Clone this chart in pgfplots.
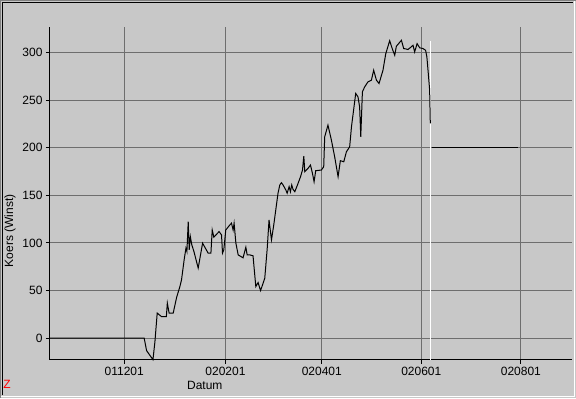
\documentclass[border=0pt]{standalone}
\usepackage{fontspec}
\setmainfont{Liberation Sans}
\usepackage{pgfplots}
\pgfplotsset{compat=1.18}
\definecolor{bg}{RGB}{200,200,200}
\definecolor{gridc}{RGB}{110,110,110}
\definecolor{frameg}{RGB}{128,128,128}
\begin{document}
\begin{tikzpicture}[x=1bp,y=1bp]
\fill[bg] (0,0) rectangle (576,398);
\draw[frameg, line width=1bp] (0.5,0) -- (0.5,397.5) -- (576,397.5);
\draw[black, line width=1bp] (2.5,2.5) -- (2.5,395.5) -- (573.5,395.5);
\draw[white, line width=1bp] (1.5,1.5) -- (574.5,1.5) -- (574.5,396.5);
\begin{axis}[
  at={(50bp,38bp)}, anchor=south west,
  width=522bp, height=333bp, scale only axis,
  xmin=-45.5, xmax=274, ymin=-22.8, ymax=327,
  axis x line=bottom, axis y line=left,
  axis line style={-, black, line width=1bp},
  xtick={0,62,121,182,243},
  xticklabels={011201,020201,020401,020601,020801},
  ytick={0,50,100,150,200,250,300},
  grid=major, major grid style={gridc, line width=1bp},
  tick align=outside, major tick length=4bp,
  tick style={black, line width=1bp},
  every tick label/.append style={font=\fontsize{12bp}{14bp}\selectfont},
  /pgf/number format/assume math mode=true,
  clip=false,
]
\addplot[white, line width=1bp] coordinates {(187.9,-22.8) (187.9,312)};
\addplot[black, line width=1bp] coordinates {(188.3,200) (241.4,200)};
\addplot[black, line width=1bp] coordinates {
(-45.5,0) (12.2,0) (13.7,-13.3) (17.6,-22.8) (18.8,-3.9) (20.2,26.2)
(22.9,22.4) (25.8,22.4) (26.4,36.7) (27.5,26.2) (30.0,26.2) (32.1,42.8)
(34.1,54.1) (35.1,61.2) (36.7,82.2) (37.8,94.4) (38.4,90.9) (39.2,122.4)
(39.8,92.7) (40.5,106.6) (41.4,97.9) (42.7,90.9) (45.3,73.5) (48.0,99.7)
(51.4,89.2) (53.1,89.2) (53.9,113.6) (54.9,106.0) (58.1,111.9) (59.6,108.4)
(60.2,89.2) (61.0,92.7) (62.2,113.6) (64.7,118.9) (65.7,120.7) (66.7,113.6)
(67.3,120.7) (68.4,99.7) (69.8,87.4) (72.8,84.3) (74.5,95.5) (75.3,87.4)
(76.9,87.4) (78.9,86.4) (80.6,54.1) (82.0,58.3) (83.5,49.9) (85.1,57.7)
(86.1,63.0) (87.6,94.4) (88.7,124.1) (90.2,103.1) (91.6,118.9) (94.2,152.2)
(95.3,160.9) (96.3,163.3) (97.3,160.9) (99.0,155.6) (99.8,152.2) (101.0,159.1)
(101.8,153.8) (102.6,160.9) (103.4,156.3) (104.5,153.8) (106.5,162.6) (108.0,169.6)
(109.2,176.6) (110.0,191.3) (110.6,174.8) (112.6,178.4) (114.1,181.8) (115.3,173.1)
(116.3,164.3) (117.3,175.9) (120.8,176.6) (122.2,180.1) (122.8,211.5) (124.8,223.8)
(126.9,208.1) (128.9,190.6) (131.0,169.6) (132.4,186.4) (134.5,185.3) (136.1,195.8)
(138.1,201.0) (139.2,222.0) (141.8,257.1) (143.2,253.5) (144.2,243.0) (144.9,211.5)
(145.9,258.8) (147.3,264.0) (149.3,269.3) (151.4,271.0) (152.8,281.5) (154.5,271.0)
(156.1,267.6) (158.5,281.5) (160.2,298.8) (162.6,312.5) (164.3,303.6) (165.7,297.3)
(166.7,306.7) (169.8,313.0) (171.2,304.3) (172.8,303.8) (173.8,303.3) (175.9,306.2)
(176.9,307.8) (177.9,300.7) (179.4,309.5) (181.0,305.1) (183.0,304.3) (184.6,302.5)
(185.4,295.5) (186.2,279.4) (187.1,260.5) (187.5,225.6)
};
\end{axis}
\node[font=\fontsize{12bp}{14bp}\selectfont, rotate=90] at (10,167) {Koers (Winst)};
\node[font=\fontsize{12bp}{14bp}\selectfont] at (205,12) {Datum};
\node[font=\fontsize{12bp}{14bp}\selectfont, text=red] at (7,13) {Z};
\end{tikzpicture}
\end{document}
